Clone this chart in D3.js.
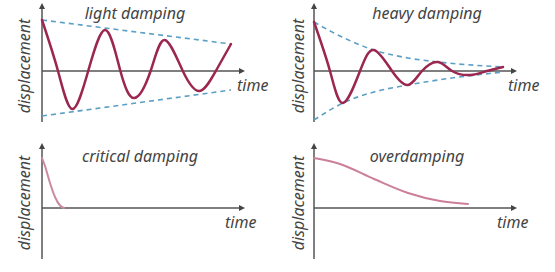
<!DOCTYPE html>
<html>
<head>
<meta charset="utf-8">
<script src="https://cdn.jsdelivr.net/npm/d3@7"></script>
<style>
  body { margin: 0; background: #fff; }
  svg { display: block; }
  .label { font-family: "Noto Sans", sans-serif; font-style: italic; fill: #444; font-size: 16px; }
  .axis-line { stroke: #555; stroke-width: 1.5; }
  .envelope { fill: none; stroke: #5c9fc6; stroke-width: 1.6; stroke-dasharray: 5,4; }
</style>
</head>
<body>
<div id="chartDiv"></div>
<script>
//Points: [time, displacement]
let lightCurve = [[0, 1.02], [0.8, 0], [1.51, -0.76], [2.31, 0], [3.17, 0.82], [3.92, 0], [4.62, -0.54],
    [5.43, 0], [6.13, 0.62], [7.04, 0], [7.89, -0.40], [8.69, 0], [9.45, 0.54]];
let lightUpper = [[0, 1.02], [9.45, 0.54]];
let lightLower = [[0, -0.90], [9.45, -0.38]];

let heavyCurve = [[0, 0.98], [0.8, 0], [1.45, -0.64], [2.3, 0], [3.0, 0.42], [3.9, 0], [4.7, -0.28],
    [5.4, 0], [6.2, 0.18], [6.9, 0], [7.8, -0.08], [8.65, 0], [9.45, 0.08]];
let heavyUpper = [[0, 0.98], [1.4, 0.68], [3.0, 0.42], [4.7, 0.26], [6.2, 0.18], [9.45, 0.08]];
let heavyLower = [[0, -0.98], [1.45, -0.64], [3.0, -0.42], [4.7, -0.28], [6.2, -0.18], [9.45, -0.02]];

let criticalCurve = [[0, 1.0], [0.15, 0.84], [0.4, 0.5], [0.65, 0.22], [0.9, 0.05], [1.1, 0]];
let overCurve = [[0, 1.0], [1.3, 0.88], [3.0, 0.58], [4.7, 0.30], [6.3, 0.14], [7.7, 0.08]];

let titles = ['light damping', 'heavy damping', 'critical damping', 'overdamping'];
let xLabel = 'time';
let yLabel = 'displacement';

let width = 555;
let height = 272;

let svg = d3.select('#chartDiv')
    .append('svg')
    .attr('width', width)
    .attr('height', height);

svg.append('defs').append('marker')
    .attr('id', 'arrow')
    .attr('viewBox', '0 0 8 8')
    .attr('refX', 4)
    .attr('refY', 4)
    .attr('markerWidth', 6)
    .attr('markerHeight', 6)
    .attr('markerUnits', 'userSpaceOnUse')
    .attr('orient', 'auto')
    .append('path')
    .attr('d', 'M0,0 L8,4 L0,8 z')
    .attr('fill', '#444');

//Layout of the four small plots
let panels = [
    {title: titles[0], curve: lightCurve, upper: lightUpper, lower: lightLower, ox: 42, zy: 71, top: 1.3,
        color: '#9b2750', cw: 2.5, titleX: 135, titleY: 19, timeX: 237, labelX: 30,
        envInterp: d3.curveLinear, interp: d3.curveNatural},
    {title: titles[1], curve: heavyCurve, upper: heavyUpper, lower: heavyLower, ox: 314, zy: 71, top: 1.3,
        color: '#9b2750', cw: 2.5, titleX: 427, titleY: 19, timeX: 508, labelX: 304,
        envInterp: d3.curveMonotoneX, interp: d3.curveNatural},
    {title: titles[2], curve: criticalCurve, ox: 42, zy: 208, top: 1.24,
        color: '#cc8aa0', cw: 2, titleX: 140, titleY: 162, timeX: 225, labelX: 30, interp: d3.curveMonotoneX},
    {title: titles[3], curve: overCurve, ox: 314, zy: 208, top: 1.24,
        color: '#cc7f98', cw: 2, titleX: 417, titleY: 162, timeX: 497, labelX: 304, interp: d3.curveMonotoneX}
];

panels.forEach(function(p) {
    let xScale = d3.scaleLinear().domain([0, 10]).range([p.ox, p.ox + 200]);
    let yScale = d3.scaleLinear().domain([-1, 1]).range([p.zy + 50, p.zy - 50]);

    let line = d3.line()
        .x(function(d) {return xScale(d[0])})
        .y(function(d) {return yScale(d[1])});

    let g = svg.append('g').attr('class', 'panel');

    //axes with arrow heads
    g.append('line')
        .attr('class', 'axis-line')
        .attr('x1', xScale(0)).attr('x2', xScale(0))
        .attr('y1', yScale(-1.02)).attr('y2', yScale(p.top))
        .attr('marker-end', 'url(#arrow)');
    g.append('line')
        .attr('class', 'axis-line')
        .attr('x1', xScale(0)).attr('x2', xScale(10))
        .attr('y1', yScale(0)).attr('y2', yScale(0))
        .attr('marker-end', 'url(#arrow)');

    //dashed envelope
    if (p.upper) {
        [p.upper, p.lower].forEach(function(env) {
            g.append('path')
                .attr('class', 'envelope')
                .attr('d', line.curve(p.envInterp)(env));
        });
    }

    g.append('path')
        .attr('fill', 'none')
        .attr('stroke', p.color)
        .attr('stroke-width', p.cw)
        .attr('stroke-linecap', 'round')
        .attr('d', line.curve(p.interp)(p.curve));

    g.append('text')
        .attr('class', 'label')
        .attr('x', p.titleX)
        .attr('y', p.titleY)
        .attr('text-anchor', 'middle')
        .text(p.title);

    g.append('text')
        .attr('class', 'label')
        .attr('x', p.timeX)
        .attr('y', p.zy + 20)
        .text(xLabel);

    g.append('text')
        .attr('class', 'label')
        .attr('text-anchor', 'middle')
        .attr('transform', 'translate(' + p.labelX + ',' + (p.zy - 5) + ') rotate(-90)')
        .text(yLabel);
});
</script>
</body>
</html>
